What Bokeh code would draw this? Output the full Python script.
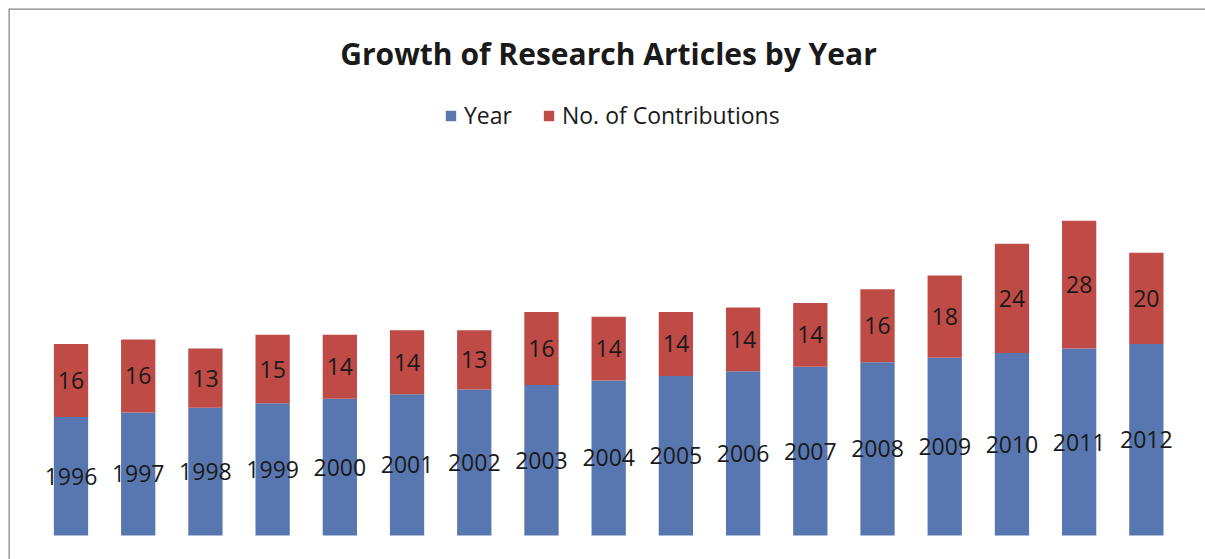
from bokeh.plotting import figure
from bokeh.models import Range1d, Legend, LegendItem, Label, ColumnDataSource, Span
from bokeh.core.properties import value
from bokeh.embed import file_html
from bokeh.resources import INLINE

# ---- data ----
years = [1996, 1997, 1998, 1999, 2000, 2001, 2002, 2003, 2004,
         2005, 2006, 2007, 2008, 2009, 2010, 2011, 2012]
contributions = [16, 16, 13, 15, 14, 14, 13, 16, 14, 14, 14, 14, 16, 18, 24, 28, 20]
axis_min = 1970
title_text = "Growth of Research Articles by Year"
series_names = ["Year", "No. of Contributions"]

BLUE = "#5877B0"
RED = "#BE4B45"
FONT = "Open Sans"

idx = list(range(len(years)))
tops = [y + c for y, c in zip(years, contributions)]
src = ColumnDataSource(dict(
    x=idx,
    year=years,
    contrib=contributions,
    base=[axis_min] * len(years),
    top=tops,
    year_lbl=[str(y) for y in years],
    contrib_lbl=[str(c) for c in contributions],
    year_mid=[(axis_min + y) / 2 for y in years],
    contrib_mid=[y + c / 2 for y, c in zip(years, contributions)],
))

X0, X1 = -0.93, 16.88
Y0, Y1 = 1964.74, 2085.57

p = figure(width=1205, height=559, output_backend="svg", toolbar_location=None,
           x_range=Range1d(X0, X1), y_range=Range1d(Y0, Y1),
           min_border_left=8, min_border_top=8, min_border_right=0, min_border_bottom=0)
p.axis.visible = False
p.grid.visible = False
p.outline_line_color = None
p.background_fill_color = "white"
p.border_fill_color = "white"

r_year = p.vbar(x="x", bottom="base", top="year", width=0.51, source=src,
                fill_color=BLUE, line_color=None)
r_con = p.vbar(x="x", bottom="year", top="top", width=0.51, source=src,
               fill_color=RED, line_color=None)

p.text(x="x", y="year_mid", text="year_lbl", source=src,
       text_font=value(FONT), text_font_size="23px", text_color="#1a1a1a",
       text_align="center", text_baseline="middle")
p.text(x="x", y="contrib_mid", text="contrib_lbl", source=src,
       text_font=value(FONT), text_font_size="23px", text_color="#1a1a1a",
       text_align="center", text_baseline="middle")

# outer chart border (left and top only visible)
p.add_layout(Span(location=X0, dimension="height", line_color="#8a8580", line_width=2.5))
p.add_layout(Span(location=Y1, dimension="width", line_color="#8a8580", line_width=2.5))

p.add_layout(Label(x=600, y=506, x_units="screen", y_units="screen", text=title_text,
                   text_font=FONT, text_font_style="bold", text_font_size="30px",
                   text_color="#1a1a1a", text_align="center", text_baseline="middle"))

legend = Legend(items=[LegendItem(label=series_names[0], renderers=[r_year]),
                       LegendItem(label=series_names[1], renderers=[r_con])],
                orientation="horizontal", location=(436, 428),
                border_line_color=None, background_fill_alpha=0,
                label_text_font=FONT, label_text_font_size="23px", label_text_color="#1a1a1a",
                glyph_width=13, glyph_height=13, spacing=30, padding=0, margin=0,
                label_standoff=7)
p.add_layout(legend)

open("out.html", "w").write(file_html(p, INLINE))
